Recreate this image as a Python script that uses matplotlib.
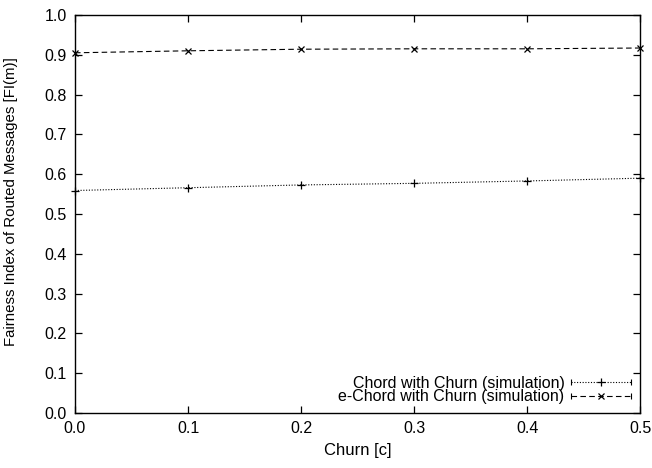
import matplotlib
matplotlib.use("Agg")
import matplotlib.pyplot as plt
from matplotlib.lines import Line2D
from matplotlib.legend_handler import HandlerLine2D

plt.rcParams["font.family"] = ["Liberation Sans", "DejaVu Sans"]

# data
churn = [0.0, 0.1, 0.2, 0.3, 0.4, 0.5]
chord = [0.559, 0.566, 0.573, 0.577, 0.583, 0.590]
echord = [0.905, 0.910, 0.914, 0.915, 0.915, 0.917]

xticks = [0.0, 0.1, 0.2, 0.3, 0.4, 0.5]
yticks = [0.0, 0.1, 0.2, 0.3, 0.4, 0.5, 0.6, 0.7, 0.8, 0.9, 1.0]


class HandlerBars(HandlerLine2D):
    """gnuplot-like legend sample: line + centre marker + small end bars."""
    def create_artists(self, legend, orig_handle, xdescent, ydescent,
                       width, height, fontsize, trans):
        arts = super().create_artists(legend, orig_handle, xdescent, ydescent,
                                      width, height, fontsize, trans)
        y = height / 2 - ydescent
        ends = Line2D([-xdescent, -xdescent + width], [y, y], linestyle="none",
                      marker="|", markersize=5, markeredgewidth=0.8,
                      color="black", transform=trans)
        return arts + [ends]


fig = plt.figure(figsize=(6.52, 4.68), dpi=100)
ax = fig.add_axes([0.115, 0.1175, 0.867, 0.8505])

ax.plot(churn, chord, linestyle=(0, (1, 1.5)), color="black", linewidth=0.8,
        marker="+", markersize=6, markeredgewidth=0.9,
        label="Chord with Churn (simulation)", clip_on=False)
ax.plot(churn, echord, linestyle=(0, (5, 3)), color="black", linewidth=0.8,
        marker="x", markersize=4.5, markeredgewidth=0.9,
        label="e-Chord with Churn (simulation)", clip_on=False)

ax.set_xlim(0, 0.5)
ax.set_ylim(0, 1.0)
ax.set_xticks(xticks)
ax.set_yticks(yticks)
ax.set_xticklabels([f"{v:.1f}" for v in xticks])
ax.set_yticklabels([f"{v:.1f}" for v in yticks])
ax.tick_params(direction="in", top=True, right=True, length=5, width=0.9,
               labelsize=11.5, pad=6)
for s in ax.spines.values():
    s.set_linewidth(1.0)

ax.set_xlabel("Churn [c]", fontsize=12, labelpad=5)
ax.set_ylabel("Fairness Index of Routed Messages [FI(m)]", fontsize=10.8)
ax.yaxis.set_label_coords(-0.1, 0.53)

ax.legend(loc="lower right", frameon=False, markerfirst=False, fontsize=11.5,
          handlelength=3.8, borderaxespad=0.15, labelspacing=-0.08,
          handletextpad=0.4, numpoints=1,
          handler_map={Line2D: HandlerBars()})

fig.savefig("out.png", dpi=100)
